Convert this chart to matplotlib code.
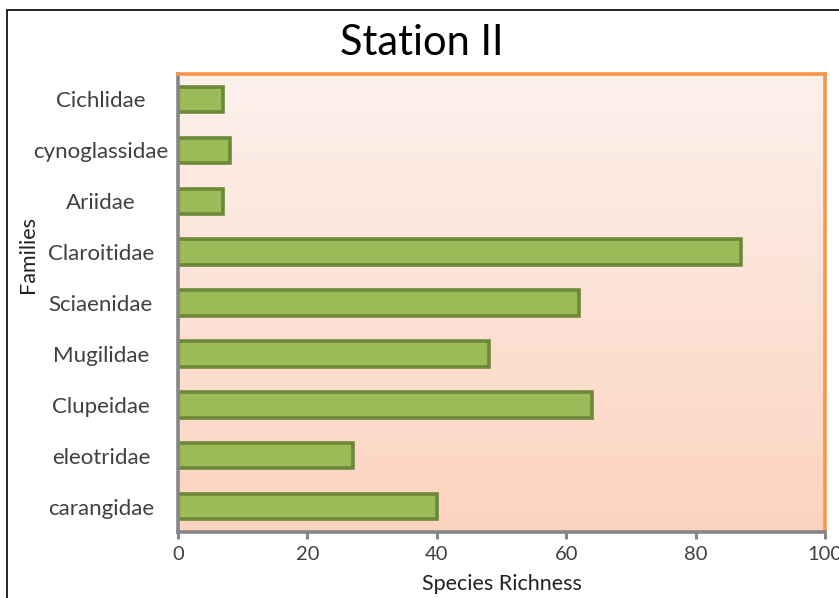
import numpy as np
import matplotlib
matplotlib.use("Agg")
import matplotlib.pyplot as plt
from matplotlib.colors import LinearSegmentedColormap
from matplotlib.patches import Rectangle

plt.rcParams['font.family'] = ['Lato', 'DejaVu Sans']

families = ["carangidae", "eleotridae", "Clupeidae", "Mugilidae", "Sciaenidae",
            "Claroitidae", "Ariidae", "cynoglassidae", "Cichlidae"]
richness = [40, 27, 64, 48, 62, 87, 7, 8, 7]
xticks = [0, 20, 40, 60, 80, 100]

W, H = 839, 598
fig = plt.figure(figsize=(W / 100, H / 100), dpi=100)
fig.patch.set_facecolor("white")

# thin black frame around the chart area
fig.add_artist(Rectangle((7 / W, -0.05), 1.2, (H - 10) / H + 0.05,
                         transform=fig.transFigure, fill=False,
                         edgecolor="black", linewidth=1.2))

ax = fig.add_axes([178 / W, (H - 532) / H, (825 - 178) / W, (532 - 74) / H])

# plot-area gradient, pale at the top to peach at the bottom
grad = np.linspace(0, 1, 256).reshape(-1, 1)
cmap = LinearSegmentedColormap.from_list("bg", ["#fdf1ec", "#fcd3bf"])
ax.imshow(grad, aspect="auto", cmap=cmap, extent=[0, 100, -0.5, 8.5],
          origin="upper", zorder=0)

y = np.arange(len(families))
ax.barh(y, richness, height=0.5, color="#9bbb59", edgecolor="#6c8838",
        linewidth=2.6, zorder=2)

ax.set_xlim(0, 100)
ax.set_ylim(-0.5, 8.5)
ax.set_xticks(xticks)
ax.set_yticks(y)
ax.set_yticklabels(families)

for side in ("top", "right"):
    ax.spines[side].set_color("#f79646")
    ax.spines[side].set_linewidth(2.6)
for side in ("left", "bottom"):
    ax.spines[side].set_color("#868686")
    ax.spines[side].set_linewidth(2.6)

ax.tick_params(axis="x", colors="#868686", length=5, width=2.2,
               labelsize=14.5, labelcolor="#404040", pad=5)
# category names are centred in the column left of the plot
ax.tick_params(axis="y", length=0, labelsize=16, labelcolor="#404040", pad=55.5)
for lbl in ax.get_yticklabels():
    lbl.set_horizontalalignment("center")

ax.set_xlabel("Species Richness", fontsize=15.5, color="#222222", labelpad=8)
ax.set_ylabel("Families", fontsize=15.5, color="#222222")
ax.yaxis.set_label_coords(-0.216, 0.605)

fig.text(422 / W, (H - 43) / H, "Station II", fontsize=30, ha="center",
         va="center", color="black")

fig.savefig("out.png", dpi=100)
